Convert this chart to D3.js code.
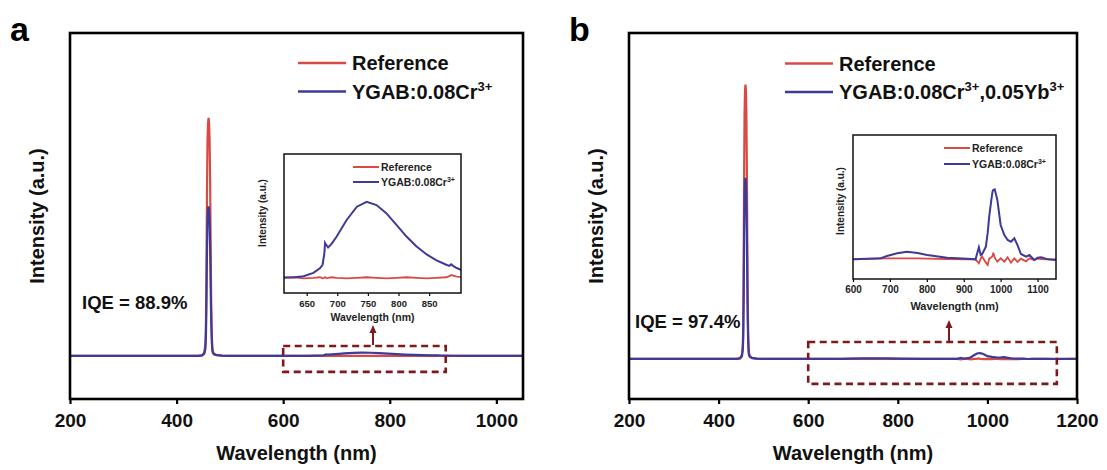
<!DOCTYPE html>
<html>
<head>
<meta charset="utf-8">
<script src="https://cdn.jsdelivr.net/npm/d3@7"></script>
<style>
  body { margin: 0; background: #fff; }
  text { font-family: "Liberation Sans", Arial, sans-serif; font-weight: bold; }
</style>
</head>
<body>
<div id="vis"></div>
<script>
// Frame size
const FRAME_WIDTH = 1107;
const FRAME_HEIGHT = 470;

const RED = "#d84a44";
const BLUE = "#3d3a98";
const DARK_RED = "#7e1a1d";

// Tick labels
const A_TICKS = [200, 400, 600, 800, 1000];
const B_TICKS = [200, 400, 600, 800, 1000, 1200];
const A_INSET_TICKS = [650, 700, 750, 800, 850];
const B_INSET_TICKS = [600, 700, 800, 900, 1000, 1100];

// Panel a spectra (wavelength in nm, intensity in a.u. with reference peak = 100)
const A_WL = [200, 300, 400, 440, 448, 452, 454, 455, 456, 457, 458, 459, 460, 461, 462, 463, 464, 465, 466, 467, 468, 470, 475, 485, 500,
  600, 630, 645, 661, 672, 676, 679, 680, 681, 683, 685, 691, 699, 715, 732, 748, 764, 780, 797, 813, 829, 846, 862, 878,
  883, 886, 889, 895, 903, 920, 950, 1000, 1050];
const A_REF = [0, 0, 0, 0, 0.3, 1.5, 5, 12, 35, 68, 90, 98, 100, 98, 90, 72, 45, 22, 10, 4, 2, 1, 0.4, 0.1, 0,
  0, 0.01, -0.01, 0, 0.01, -0.01, 0, 0.01, 0, -0.01, 0, 0.01, 0, -0.01, 0, 0.01, 0, -0.01, 0, 0.01, 0, -0.01, 0, 0.01,
  0.03, 0.05, 0.04, 0.02, 0.01, 0, 0, 0, 0];
const A_SAMPLE = [0, 0, 0, 0, 0.2, 1, 3, 7.5, 22, 43, 57, 62, 62.8, 61.5, 56, 45, 28, 14, 6.3, 2.5, 1.3, 0.7, 0.3, 0.1, 0,
  0, 0.01, 0.03, 0.09, 0.18, 0.24, 0.46, 0.64, 0.62, 0.59, 0.56, 0.63, 0.76, 1.06, 1.31, 1.4, 1.34, 1.19, 0.97, 0.76, 0.58, 0.43, 0.32, 0.24,
  0.22, 0.25, 0.22, 0.18, 0.14, 0.08, 0.04, 0.02, 0];

// Panel b spectra
const B_WL = [200, 300, 400, 440, 448, 452, 454, 455, 456, 457, 458, 459, 460, 461, 462, 463, 464, 465, 466, 467, 468, 470, 475, 485, 500,
  600, 674, 692, 720, 746, 775, 801, 855, 910, 932, 941, 946, 950, 960, 965, 969, 975, 978, 980, 984, 991, 1000, 1010, 1019,
  1028, 1037, 1046, 1055, 1069, 1078, 1091, 1100, 1110, 1128, 1150, 1200];
const B_REF = [0, 0, 0, 0, 0.3, 1.5, 5, 12, 35, 68, 90, 98, 100, 98, 90, 72, 45, 22, 10, 4, 2, 1, 0.4, 0.1, 0,
  0, 0.02, 0.03, 0.03, 0.03, 0.03, 0.02, 0.01, 0, 0, -0.12, 0.02, 0.08, -0.1, -0.17, 0.02, 0.06, 0.1, 0.2, 0.05, -0.07, 0.03, -0.07, 0.06,
  -0.1, 0.03, -0.08, 0.02, -0.06, 0.03, -0.02, 0.02, 0.01, 0, 0, 0];
const B_SAMPLE = [0, 0, 0, 0, 0.2, 1, 3.2, 8, 23, 45, 60, 65, 66, 64.7, 59, 47, 29.5, 14.5, 6.6, 2.6, 1.3, 0.7, 0.3, 0.1, 0,
  0, 0.03, 0.1, 0.18, 0.23, 0.19, 0.13, 0.05, 0.02, 0, 0.36, 0.13, 0.16, 0.38, 0.8, 1.28, 1.8, 2.03, 2.08, 2.1, 1.79, 1.03, 0.73, 0.58,
  0.53, 0.63, 0.42, 0.16, 0.08, 0.13, -0.02, 0.05, 0.06, 0, -0.02, 0];

const SVG = d3.select("#vis")
  .append("svg")
    .attr("width", FRAME_WIDTH)
    .attr("height", FRAME_HEIGHT);

// Make a list of {x, y} points from two arrays
function points(xs, ys) {
  return xs.map((x, i) => ({x: x, y: ys[i]}));
}

// Draw one panel (main plot + zoomed inset)
function drawPanel(p) {
  const G = SVG.append("g");

  const X_SCALE = d3.scaleLinear().domain(p.xDomain).range([p.left, p.right]);
  const Y_SCALE = d3.scaleLinear().domain(p.yDomain).range([p.bottom, p.top]);

  G.append("clipPath").attr("id", "clip-" + p.id)
    .append("rect")
      .attr("x", p.left).attr("y", p.top)
      .attr("width", p.right - p.left).attr("height", p.bottom - p.top);

  const line = d3.line()
    .x((d) => X_SCALE(d.x))
    .y((d) => Y_SCALE(d.y));

  const plot = G.append("g").attr("clip-path", "url(#clip-" + p.id + ")");
  plot.append("path")
    .attr("d", line(points(p.wl, p.ref)))
    .attr("fill", "none").attr("stroke", RED).attr("stroke-width", 2.2);
  plot.append("path")
    .attr("d", line(points(p.wl, p.sample)))
    .attr("fill", "none").attr("stroke", BLUE).attr("stroke-width", 2.2);

  // x axis
  const xAxis = G.append("g")
    .attr("transform", "translate(0," + p.bottom + ")")
    .call(d3.axisBottom(X_SCALE).tickValues(p.ticks).tickFormat(d3.format("d"))
      .tickSize(5).tickPadding(9.5));
  xAxis.select(".domain").remove();
  xAxis.selectAll("line").attr("stroke", "#000").attr("stroke-width", 2.2);
  xAxis.selectAll("text")
    .attr("font-size", "19px").attr("font-family", "Liberation Sans, Arial, sans-serif")
    .attr("font-weight", "bold").attr("fill", "#111");

  // frame
  G.append("rect")
    .attr("x", p.left).attr("y", p.top)
    .attr("width", p.right - p.left).attr("height", p.bottom - p.top)
    .attr("fill", "none").attr("stroke", "#000").attr("stroke-width", 2.6);

  // axis titles
  G.append("text")
    .attr("x", (p.left + p.right) / 2).attr("y", 460)
    .attr("text-anchor", "middle").style("font-size", "20px").attr("fill", "#111")
    .text("Wavelength (nm)");
  G.append("text")
    .attr("transform", "translate(" + (p.left - 26) + "," + ((p.top + p.bottom) / 2) + ")rotate(-90)")
    .attr("text-anchor", "middle").style("font-size", "20px").attr("fill", "#111")
    .text("Intensity (a.u.)");

  // panel letter
  G.append("text")
    .attr("x", p.letterX).attr("y", 41)
    .style("font-size", "34px").attr("fill", "#000")
    .text(p.letter);

  // IQE
  G.append("text")
    .attr("x", p.iqeX).attr("y", p.iqeY)
    .style("font-size", "18.5px").attr("fill", "#111")
    .text(p.iqe);

  // legend
  const LEG = G.append("g");
  [[RED, "Reference", null], [BLUE, p.sampleLabel, p.sampleSup]].forEach((e, i) => {
    const y = p.legY + i * 28.5;
    LEG.append("line")
      .attr("x1", p.legX).attr("x2", p.legX + 48)
      .attr("y1", y).attr("y2", y)
      .attr("stroke", e[0]).attr("stroke-width", 2.4);
    const t = LEG.append("text")
      .attr("x", p.legX + 54).attr("y", y + 7)
      .style("font-size", "20px").attr("fill", "#111");
    e[2] ? addSup(t, e[2], 13, 8) : t.text(e[1]);
  });

  // dashed zoom box and arrow
  const bx0 = X_SCALE(p.box[0]), bx1 = X_SCALE(p.box[1]);
  const by0 = Y_SCALE(p.box[3]), by1 = Y_SCALE(p.box[2]);
  G.append("rect")
    .attr("x", bx0).attr("y", by0)
    .attr("width", bx1 - bx0).attr("height", by1 - by0)
    .attr("fill", "none").attr("stroke", DARK_RED)
    .attr("stroke-width", 2.6).attr("stroke-dasharray", "7,4.5");
  G.append("line")
    .attr("x1", p.arrowX).attr("x2", p.arrowX)
    .attr("y1", by0 - 1).attr("y2", p.arrowTip + 6)
    .attr("stroke", DARK_RED).attr("stroke-width", 2);
  G.append("path")
    .attr("d", "M" + (p.arrowX - 3.5) + "," + (p.arrowTip + 8) + "L" + p.arrowX + "," + p.arrowTip + "L" + (p.arrowX + 3.5) + "," + (p.arrowTip + 8) + "Z")
    .attr("fill", DARK_RED);

  // inset
  const I = p.inset;
  const IX = d3.scaleLinear().domain(I.xDomain).range([I.left, I.right]);
  const IY = d3.scaleLinear().domain(I.yDomain).range([I.bottom, I.top]);
  const iline = d3.line().x((d) => IX(d.x)).y((d) => IY(d.y));

  G.append("clipPath").attr("id", "iclip-" + p.id)
    .append("rect")
      .attr("x", I.left).attr("y", I.top)
      .attr("width", I.right - I.left).attr("height", I.bottom - I.top);
  G.append("rect")
    .attr("x", I.left).attr("y", I.top)
    .attr("width", I.right - I.left).attr("height", I.bottom - I.top)
    .attr("fill", "#fff");

  const iplot = G.append("g").attr("clip-path", "url(#iclip-" + p.id + ")");
  iplot.append("path")
    .attr("d", iline(points(p.wl, p.ref)))
    .attr("fill", "none").attr("stroke", RED).attr("stroke-width", 1.8);
  iplot.append("path")
    .attr("d", iline(points(p.wl, p.sample)))
    .attr("fill", "none").attr("stroke", BLUE).attr("stroke-width", 2);

  const ixAxis = G.append("g")
    .attr("transform", "translate(0," + I.bottom + ")")
    .call(d3.axisBottom(IX).tickValues(I.ticks).tickFormat(d3.format("d"))
      .tickSize(3).tickPadding(I.pad));
  ixAxis.select(".domain").remove();
  ixAxis.selectAll("line").attr("stroke", "#000").attr("stroke-width", 1.2);
  ixAxis.selectAll("text")
    .attr("font-size", I.tickFont + "px").attr("font-family", "Liberation Sans, Arial, sans-serif")
    .attr("font-weight", "bold").attr("fill", "#222");

  G.append("rect")
    .attr("x", I.left).attr("y", I.top)
    .attr("width", I.right - I.left).attr("height", I.bottom - I.top)
    .attr("fill", "none").attr("stroke", "#111").attr("stroke-width", 1.5);

  G.append("text")
    .attr("x", (I.left + I.right) / 2).attr("y", I.titleY)
    .attr("text-anchor", "middle").style("font-size", I.titleFont + "px").attr("fill", "#222")
    .text("Wavelength (nm)");
  G.append("text")
    .attr("transform", "translate(" + I.ylabX + "," + I.ylabY + ")rotate(-90)")
    .attr("text-anchor", "middle").style("font-size", "10px").attr("fill", "#222")
    .text("Intensity (a.u.)");

  [[RED, "Reference", null], [BLUE, "YGAB:0.08Cr", "3+"]].forEach((e, i) => {
    const y = I.legY + i * I.legGap;
    G.append("line")
      .attr("x1", I.legX).attr("x2", I.legX + 26)
      .attr("y1", y).attr("y2", y)
      .attr("stroke", e[0]).attr("stroke-width", 2);
    const t = G.append("text")
      .attr("x", I.legX + 28).attr("y", y + 3.6)
      .style("font-size", I.legFont + "px").attr("fill", "#222");
    if (e[2]) {
      t.append("tspan").text(e[1]);
      t.append("tspan").attr("dy", -4).style("font-size", "7px").text(e[2]);
    } else {
      t.text(e[1]);
    }
  });
}

// Text with superscripts: parts is a list of [text, isSup]
function addSup(t, parts, supSize, lift) {
  let up = false;
  parts.forEach((part) => {
    const s = t.append("tspan").text(part[0]);
    if (part[1] && !up) { s.attr("dy", -lift).style("font-size", supSize + "px"); up = true; }
    else if (!part[1] && up) { s.attr("dy", lift); up = false; }
  });
}

drawPanel({
  id: "a", letter: "a", letterX: 10,
  left: 70, right: 523, top: 33, bottom: 399,
  xDomain: [200, 1050], yDomain: [-18.1, 135.7], ticks: A_TICKS,
  wl: A_WL, ref: A_REF, sample: A_SAMPLE,
  iqe: "IQE = 88.9%", iqeX: 82, iqeY: 309,
  legX: 298, legY: 63,
  sampleSup: [["YGAB:0.08Cr", false], ["3+", true]],
  box: [600, 905, -6.7, 4.2], arrowX: 373, arrowTip: 325,
  inset: {
    left: 284, right: 461, top: 154, bottom: 293,
    xDomain: [613, 902], yDomain: [-0.28, 2.28], ticks: A_INSET_TICKS,
    pad: 4, tickFont: 9.5, titleY: 321, titleFont: 10.5,
    ylabX: 266, ylabY: 213,
    legX: 353, legY: 167, legGap: 15, legFont: 10.5
  }
});

drawPanel({
  id: "b", letter: "b", letterX: 569,
  left: 629, right: 1077, top: 33, bottom: 399,
  xDomain: [200, 1200], yDomain: [-14.6, 118.8], ticks: B_TICKS,
  wl: B_WL, ref: B_REF, sample: B_SAMPLE,
  iqe: "IQE = 97.4%", iqeX: 635, iqeY: 328,
  legX: 785, legY: 63.5,
  sampleSup: [["YGAB:0.08Cr", false], ["3+", true], [",0.05Yb", false], ["3+", true]],
  box: [600, 1155, -9.1, 6.2], arrowX: 949, arrowTip: 320,
  inset: {
    left: 853, right: 1056, top: 135, bottom: 279,
    xDomain: [600, 1150], yDomain: [-0.59, 3.73], ticks: B_INSET_TICKS,
    pad: 3.5, tickFont: 10, titleY: 310, titleFont: 11,
    ylabX: 844, ylabY: 201,
    legX: 944, legY: 148, legGap: 16, legFont: 10.5
  }
});
</script>
</body>
</html>
